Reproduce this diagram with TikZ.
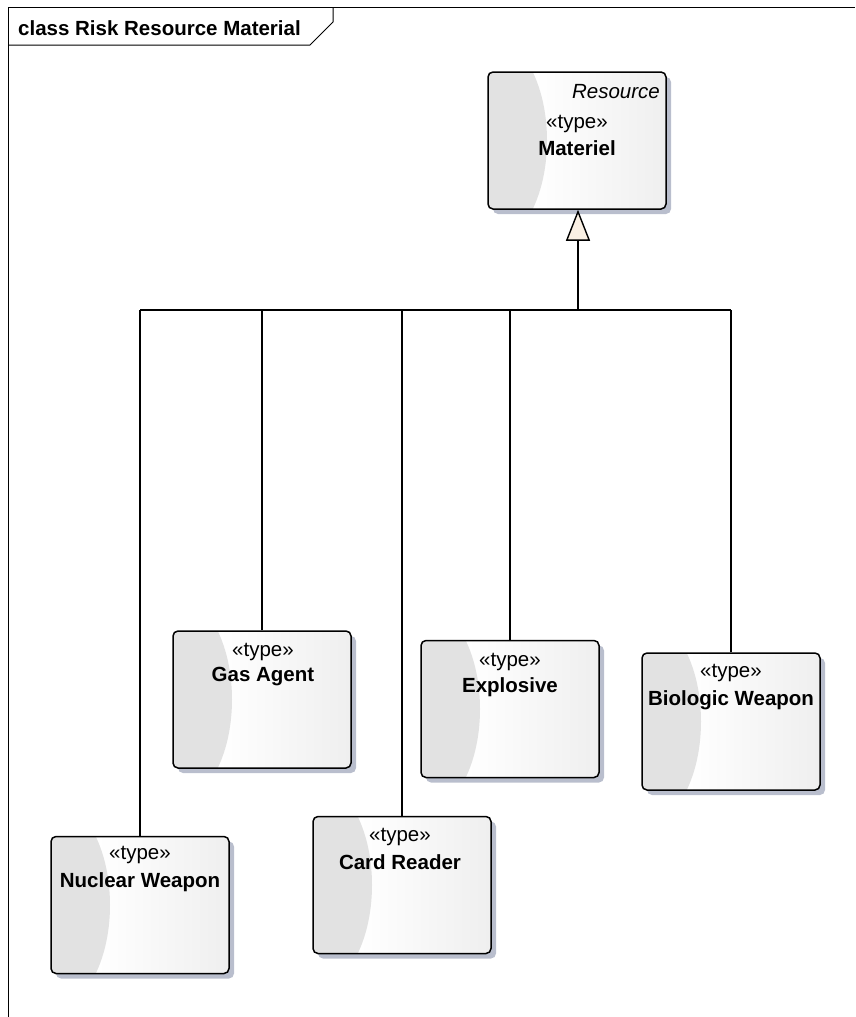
\documentclass[tikz,border=0pt]{standalone}
\usepackage{fontspec}
\setmainfont{Liberation Sans}
\usetikzlibrary{arrows.meta,shadows}
\definecolor{shadowc}{RGB}{168,174,192}
\definecolor{crescent}{RGB}{226,226,226}
\definecolor{rightg}{RGB}{228,228,228}
\definecolor{cream}{RGB}{250,240,228}
\pgfdeclarehorizontalshading{boxshade}{100bp}{color(0bp)=(white); color(38bp)=(white); color(100bp)=(rightg)}
\tikzset{
  typebox/.style={draw=black, line width=1.5pt, rounded corners=5pt,
    minimum width=178pt, minimum height=137pt, inner sep=0pt,
    shading=boxshade,
    drop shadow={shadow xshift=5pt, shadow yshift=-5pt, fill=shadowc, opacity=0.8},
    path picture={\fill[crescent] (path picture bounding box.west) ellipse (59pt and 105pt);}},
  stereo/.style={font=\fontsize{20.5}{24}\selectfont, anchor=center, inner sep=0pt},
  tname/.style={font=\fontsize{20.5}{24}\selectfont\bfseries, anchor=center, inner sep=0pt},
  conn/.style={draw=black, line width=1.4pt},
  frameline/.style={draw=black, line width=1pt}
}
\begin{document}
\begin{tikzpicture}[x=1pt,y=-1pt]
\useasboundingbox (0,0) rectangle (855,1017);
% frame
\coordinate (fTL) at (8,7);
\coordinate (fTR) at (855,7);
\coordinate (fBL) at (8,1017);
\coordinate (tabA) at (8,45);
\coordinate (tabB) at (310,45);
\coordinate (tabC) at (333,22);
\coordinate (tabD) at (333,7);
\draw[frameline] (fBL) -- (fTL) -- (fTR);
\draw[frameline] (tabA) -- (tabB) -- (tabC) -- (tabD);
\node[font=\fontsize{20.5}{24}\selectfont\bfseries, anchor=west, inner sep=0pt] (title) at (18,28) {class Risk Resource Material};

% boxes
\node[typebox] (mat) at (577,140.5) {};
\node[font=\fontsize{20.5}{24}\selectfont\itshape, anchor=east, inner sep=0pt] (matres) at (660,92) {Resource};
\node[stereo] (matst) at (577,124) {«type»};
\node[tname] (matnm) at (577,148) {Materiel};

\node[typebox] (gas) at (262,699.5) {};
\node[stereo] (gasst) at (263,652) {«type»};
\node[tname] (gasnm) at (263,677) {Gas Agent};

\node[typebox] (nuc) at (140,905) {};
\node[stereo] (nucst) at (140,855) {«type»};
\node[tname] (nucnm) at (140,882) {Nuclear Weapon};

\node[typebox] (card) at (402,885) {};
\node[stereo] (cardst) at (400,837) {«type»};
\node[tname] (cardnm) at (400,862) {Card Reader};

\node[typebox] (expl) at (510,709) {};
\node[stereo] (explst) at (510,662) {«type»};
\node[tname] (explnm) at (510,687) {Explosive};

\node[typebox] (bio) at (731,721.5) {};
\node[stereo] (biost) at (731,673) {«type»};
\node[tname] (bionm) at (731,700) {Biologic Weapon};

% generalization
\coordinate (bar) at (578,310);
\draw[conn] (nuc.north |- bar) -- (bio.north |- bar);
\draw[conn] (nuc.north) -- (nuc.north |- bar);
\draw[conn] (gas.north) -- (gas.north |- bar);
\draw[conn] (card.north) -- (card.north |- bar);
\draw[conn] (expl.north) -- (expl.north |- bar);
\draw[conn] (bio.north) -- (bio.north |- bar);
\draw[conn, -{Triangle[length=31pt, width=24pt, fill=cream, line width=1.4pt]}] (bar) -- (mat.south -| bar);
\end{tikzpicture}
\end{document}
